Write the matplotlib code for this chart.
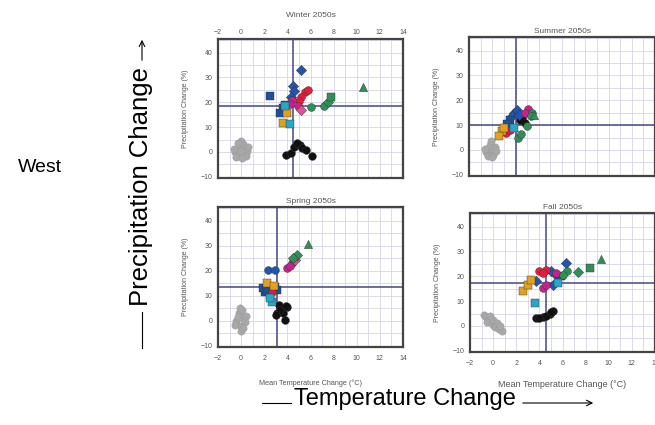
import matplotlib
matplotlib.use("Agg")
import matplotlib.pyplot as plt
from matplotlib.ticker import MultipleLocator
from matplotlib.lines import Line2D

plt.rcParams['font.family'] = ['Liberation Sans', 'DejaVu Sans']

seasons = ['Winter 2050s', 'Summer 2050s', 'Spring 2050s', 'Fall 2050s']

# mean change (crosshair) per season
mean_temp = [4.5, 2.0, 3.1, 4.6]
mean_precip = [18.5, 10.2, 13.5, 17.3]

# winter
winter_temp = [-0.5, 0.0, 0.3, -0.2, 0.2, -0.4, 0.5, 0.0, -0.6, 0.4, 0.1, -0.3, 0.6, 0.0,
               3.9, 4.3, 4.6, 5.1, 5.3, 5.6, 6.1, 4.8,
               5.2, 4.5, 4.6, 4.3,
               5.5, 5.2, 5.8, 5.0,
               2.5, 3.6, 3.4, 3.8,
               4.4, 4.9, 4.2,
               5.2,
               4.0, 3.6,
               4.2, 3.8,
               6.0, 7.2,
               7.5,
               7.8,
               10.5]
winter_precip = [0.0, -1.0, 1.0, 2.0, 3.0, -2.0, 0.5, 4.5, 1.0, -1.5, -2.5, 3.5, 2.0, 0.5,
                 -1.2, -0.4, 2.0, 2.8, 1.6, 0.8, -1.6, 3.5,
                 33.2, 26.4, 24.5, 22.0,
                 24.0, 22.0, 25.0, 20.5,
                 22.4, 17.6, 15.6, 19.0,
                 20.8, 18.4, 19.5,
                 17.0,
                 15.6, 11.6,
                 11.2, 18.5,
                 18.0, 18.4,
                 20.0,
                 22.0,
                 26.0]
winter_group = ['gray'] * 14 + ['black'] * 8 + ['blue'] * 4 + ['red'] * 4 + ['navy'] * 4 + \
    ['magenta'] * 3 + ['pink'] + ['orange'] * 2 + ['cyan'] * 2 + ['green_o'] * 2 + \
    ['green_d', 'green_s', 'green_t']

# summer
summer_temp = [-0.5, 0.0, -0.2, 0.2, -0.4, 0.1, -0.1, 0.3, -0.6, 0.0,
               0.8, 0.6, 1.0,
               1.2, 1.5,
               1.5, 1.3,
               1.9, 2.1, 1.7, 2.3,
               1.9,
               2.6, 2.8, 2.4,
               3.1, 2.8,
               3.4, 3.0, 2.2, 2.5, 3.3,
               3.6]
summer_precip = [-1.0, 0.0, 2.0, 1.0, -2.5, -2.0, 3.5, -0.5, 0.5, -3.0,
                 7.5, 5.5, 9.0,
                 7.0, 8.0,
                 12.2, 10.5,
                 15.0, 16.2, 13.5, 14.0,
                 9.0,
                 13.0, 11.0, 12.0,
                 16.6, 15.0,
                 15.0, 9.5, 5.0, 6.5, 13.5,
                 14.0]
summer_group = ['gray'] * 10 + ['orange'] * 3 + ['red'] * 2 + ['navy'] * 2 + ['blue'] * 4 + \
    ['cyan'] + ['black'] * 3 + ['magenta'] * 2 + ['green_o'] * 5 + ['green_t']

# spring
spring_temp = [-0.4, 0.0, 0.2, -0.2, 0.1, -0.5, 0.4, 0.0, -0.3, 0.3, -0.1, 0.2,
               3.3, 3.1, 3.6, 4.0, 3.8, 3.4, 3.9, 3.0,
               5.8,
               4.8, 4.5,
               4.7,
               4.4, 4.0, 4.2,
               2.3, 2.9,
               2.2, 2.8,
               2.1, 2.5, 1.9, 3.1, 2.2, 2.9,
               2.7,
               2.7, 2.5]
spring_precip = [0.0, -2.0, 1.0, 3.0, 4.5, -1.5, 2.0, -4.0, 1.5, -0.5, 5.0, -3.0,
                 6.4, 3.2, 3.2, 5.6, 0.4, 4.5, 6.0, 2.5,
                 30.8,
                 26.4, 25.2,
                 24.5,
                 23.2, 21.2, 22.0,
                 20.4, 20.4,
                 15.2, 14.0,
                 11.6, 10.4, 13.2, 12.4, 12.5, 13.5,
                 11.6,
                 7.6, 9.0]
spring_group = ['gray'] * 12 + ['black'] * 8 + ['green_t'] + ['green_d'] * 2 + ['pink'] + \
    ['magenta'] * 3 + ['blue_o'] * 2 + ['orange'] * 2 + ['navy'] * 6 + ['red'] + ['cyan'] * 2

# fall
fall_temp = [-0.8, -0.6, -0.4, -0.2, 0.0, 0.2, 0.5, 0.8, -0.5, 0.0, 0.3, -0.3, 0.6,
             3.7, 4.3, 4.9, 5.2, 4.0, 4.6, 5.0,
             9.3, 8.4, 7.3,
             6.4, 6.0,
             6.3, 5.0, 5.4, 3.7, 5.2,
             5.9,
             4.0, 4.6, 4.3,
             5.4, 4.3, 4.6,
             2.6, 3.0, 3.3,
             3.6, 5.6]
fall_precip = [4.5, 3.5, 2.5, 1.5, 0.5, -0.5, -1.2, -2.0, 1.5, 2.5, 1.0, 4.0, 0.0,
               3.0, 3.7, 4.8, 6.1, 3.3, 4.0, 5.5,
               27.1, 23.4, 21.6,
               22.0, 20.7,
               25.5, 22.0, 20.7, 18.0, 16.6,
               20.3,
               22.0, 22.7, 21.5,
               21.4, 15.3, 16.6,
               13.9, 16.6, 18.6,
               9.1, 17.3]
fall_group = ['gray'] * 13 + ['black'] * 7 + ['green_t', 'green_s', 'green_d'] + ['green_o'] * 2 + \
    ['blue'] * 5 + ['navy'] + ['red'] * 3 + ['magenta'] * 3 + ['orange'] * 3 + ['cyan'] * 2

styles = {
    'gray': ('#a8a8a8', 'o', 28),
    'black': ('#111111', 'o', 32),
    'blue': ('#2255b0', 'D', 28),
    'blue_o': ('#2255b0', 'o', 32),
    'navy': ('#1f4f99', 's', 30),
    'red': ('#e0203a', 'o', 32),
    'magenta': ('#c8208c', 'o', 32),
    'pink': ('#e0509a', 'D', 28),
    'orange': ('#e0a020', 's', 30),
    'cyan': ('#2aa6c8', 's', 30),
    'green_o': ('#2f8f55', 'o', 32),
    'green_d': ('#2f8f55', 'D', 28),
    'green_s': ('#2f8f55', 's', 30),
    'green_t': ('#2f8f55', '^', 36),
}

panels = [(winter_temp, winter_precip, winter_group),
          (summer_temp, summer_precip, summer_group),
          (spring_temp, spring_precip, spring_group),
          (fall_temp, fall_precip, fall_group)]

# axes boxes in pixels: left, top, right, bottom
boxes = [(218, 39, 403, 178), (469, 37, 655, 176), (218, 207, 403, 347), (470, 213, 655, 352)]
xlabel_size = [0, 0, 5.2, 6.5]

W, H = 655, 425
fig = plt.figure(figsize=(W / 100, H / 100), dpi=100)

for i, (tx, py, grp) in enumerate(panels):
    l, t, r, b = boxes[i]
    ax = fig.add_axes([l / W, 1 - b / H, (r - l) / W, (b - t) / H])
    ax.set_xlim(-2, 14)
    ax.set_ylim(-10.5, 45.5)
    ax.xaxis.set_major_locator(MultipleLocator(2))
    ax.xaxis.set_minor_locator(MultipleLocator(1))
    ax.yaxis.set_major_locator(MultipleLocator(10))
    ax.yaxis.set_minor_locator(MultipleLocator(5))
    ax.grid(which='both', color='#d4d4e6', linewidth=0.6)
    ax.set_axisbelow(True)
    ax.tick_params(which='both', length=0, labelsize=5, labelcolor='#555555')
    ax.tick_params(axis='y', pad=4)
    ax.tick_params(axis='x', pad=6)
    for s in ax.spines.values():
        s.set_color('#444444')
        s.set_linewidth(1.6)
    ax.axvline(mean_temp[i], color='#55558f', lw=1.2, zorder=1.5)
    ax.axhline(mean_precip[i], color='#55558f', lw=1.2, zorder=1.5)
    for g in styles:
        xs = [x for x, k in zip(tx, grp) if k == g]
        ys = [y for y, k in zip(py, grp) if k == g]
        if not xs:
            continue
        c, m, sz = styles[g]
        ax.scatter(xs, ys, s=sz, c=c, marker=m, edgecolors='#333333' if g != 'gray' else '#999999',
                   linewidths=0.3, zorder=3)
    ax.set_ylabel('Precipitation Change (%)', fontsize=5, color='#555555', labelpad=8)
    if i == 0:
        ax.xaxis.tick_top()
        ax.tick_params(axis='x', pad=2.5)
        ax.set_title(seasons[i], fontsize=6, color='#555555', pad=16)
    else:
        ax.set_title(seasons[i], fontsize=6, color='#555555', pad=3)
    if i == 1:
        ax.tick_params(axis='x', labelbottom=False)
    if i >= 2:
        ax.set_xlabel('Mean Temperature Change (°C)', fontsize=xlabel_size[i], color='#555555',
                      labelpad=12 if i == 2 else 9)

fig.text(40 / W, 1 - 167 / H, 'West', fontsize=14, va='center', ha='center')
fig.text(141 / W, 1 - 187 / H, 'Precipitation Change', fontsize=18.5, rotation=90,
         va='center', ha='center')
fig.text(405 / W, 1 - 399 / H, 'Temperature Change', fontsize=17, va='center', ha='center')

fig.add_artist(Line2D([142 / W, 142 / W], [1 - 348 / H, 1 - 312 / H], color='black', lw=0.8))
fig.add_artist(Line2D([262 / W, 291 / W], [1 - 403 / H, 1 - 403 / H], color='black', lw=0.8))
plt.annotate('', xy=(142, H - 37), xytext=(142, H - 63), xycoords='figure pixels',
             arrowprops=dict(arrowstyle='->', lw=0.8, color='black'))
plt.annotate('', xy=(596, H - 403), xytext=(520, H - 403), xycoords='figure pixels',
             arrowprops=dict(arrowstyle='->', lw=0.8, color='black'))

fig.savefig('out.png', dpi=100)
